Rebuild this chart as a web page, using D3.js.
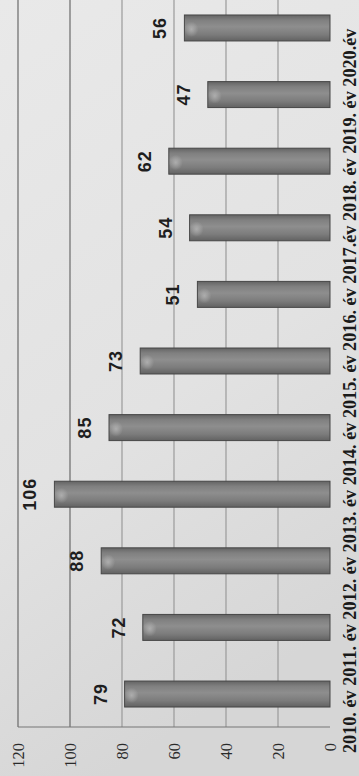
<!DOCTYPE html>
<html>
<head>
<meta charset="utf-8">
<script src="https://cdn.jsdelivr.net/npm/d3@7"></script>
<style>
  html, body { margin: 0; padding: 0; background: #e4e4e4; }
  svg { display: block; }
</style>
</head>
<body>
<script>
const years = ["2010. év", "2011. év", "2012. év", "2013. év", "2014. év", "2015. év",
               "2016. év", "2017.év", "2018. év", "2019. év", "2020.év"];
const values = [79, 72, 88, 106, 85, 73, 51, 54, 62, 47, 56];
const ticks = [0, 20, 40, 60, 80, 100, 120];

const PW = 359, PH = 776;          // page (picture) size
const W = PH, H = PW;              // unrotated chart size

const svg = d3.select("body").append("svg").attr("width", PW).attr("height", PH);
const defs = svg.append("defs");

const bg = defs.append("linearGradient").attr("id", "bg").attr("x1", 0).attr("y1", 0).attr("x2", 0.3).attr("y2", 1);
bg.append("stop").attr("offset", "0%").attr("stop-color", "#e9e9e9");
bg.append("stop").attr("offset", "60%").attr("stop-color", "#e2e2e2");
bg.append("stop").attr("offset", "100%").attr("stop-color", "#d6d6d6");
svg.append("rect").attr("width", PW).attr("height", PH).attr("fill", "url(#bg)");

const barGrad = defs.append("linearGradient").attr("id", "barGrad").attr("x1", 0).attr("y1", 0).attr("x2", 1).attr("y2", 0);
[["0%", "#626262"], ["25%", "#7c7c7c"], ["55%", "#8e8e8e"], ["80%", "#808080"], ["100%", "#646464"]]
  .forEach(([o, c]) => barGrad.append("stop").attr("offset", o).attr("stop-color", c));

const glint = defs.append("radialGradient").attr("id", "glint");
glint.append("stop").attr("offset", "0%").attr("stop-color", "#bdbdbd").attr("stop-opacity", 0.7);
glint.append("stop").attr("offset", "100%").attr("stop-color", "#bdbdbd").attr("stop-opacity", 0);

const g = svg.append("g").attr("transform", `translate(0,${PH}) rotate(-90)`);

const x = d3.scaleBand().domain(years).range([49, 781]).paddingInner(0.61).paddingOuter(0.3);
const y = d3.scaleLinear().domain([0, 120]).range([330, 18]);

// gridlines
g.append("g").selectAll("line").data(ticks.filter(t => t > 0)).join("line")
  .attr("x1", 49).attr("x2", W)
  .attr("y1", d => y(d)).attr("y2", d => y(d))
  .attr("stroke", d => d >= 100 ? "#6a6a6a" : "#9a9a9a")
  .attr("stroke-width", 1.2);

// plot left border
g.append("line").attr("x1", 49).attr("x2", 49).attr("y1", y(120)).attr("y2", y(0))
  .attr("stroke", "#777").attr("stroke-width", 1.2);

// value axis labels
const yAxis = d3.axisLeft(y).tickValues(ticks).tickSize(0).tickPadding(0);
const ya = g.append("g").attr("transform", "translate(33,0)").call(yAxis);
ya.select(".domain").remove();
ya.selectAll("text")
  .attr("font-family", "'Liberation Serif', 'Times New Roman', serif")
  .attr("font-size", 16.5).attr("fill", "#2a2a2a");

// bars
const bars = g.append("g").selectAll("g").data(values).join("g");
bars.append("rect")
  .attr("x", (d, i) => x(years[i]))
  .attr("width", x.bandwidth())
  .attr("y", d => y(d))
  .attr("height", d => y(0) - y(d))
  .attr("fill", "url(#barGrad)")
  .attr("stroke", "#474747").attr("stroke-width", 1);
bars.append("ellipse")
  .attr("cx", (d, i) => x(years[i]) + x.bandwidth() * 0.45)
  .attr("cy", d => y(d) + 7)
  .attr("rx", x.bandwidth() * 0.3).attr("ry", 7)
  .attr("fill", "url(#glint)");

// value labels
g.append("g").selectAll("text").data(values).join("text")
  .attr("x", (d, i) => x(years[i]) + x.bandwidth() / 2)
  .attr("y", d => y(d) - 18)
  .attr("text-anchor", "middle")
  .attr("font-family", "'Liberation Sans', Arial, sans-serif")
  .attr("font-weight", "bold").attr("font-size", 18).attr("letter-spacing", 1)
  .attr("fill", "#1e1e1e")
  .text(d => d);

// category labels (flowing text line)
const cat = g.append("text")
  .attr("x", 23).attr("y", 356)
  .attr("font-family", "'Liberation Serif', 'Times New Roman', serif")
  .attr("font-weight", "bold").attr("font-size", 18.2).attr("fill", "#1a1a1a")
  .attr("xml:space", "preserve");
cat.selectAll("tspan").data(years).join("tspan")
  .text((d, i) => (i ? " " : "") + d);
</script>
</body>
</html>
